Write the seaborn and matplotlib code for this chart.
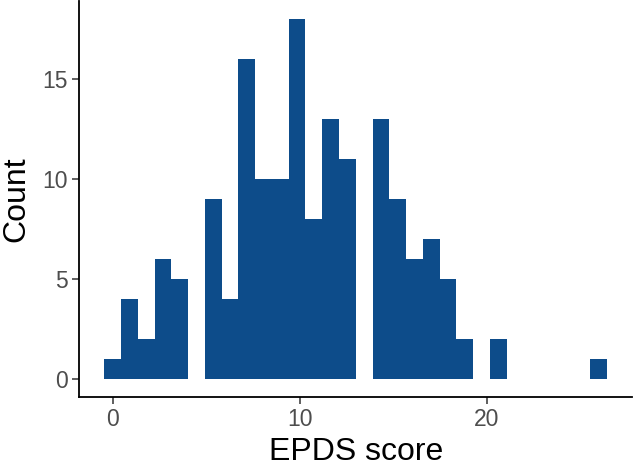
import numpy as np
import pandas as pd
import matplotlib.pyplot as plt
import seaborn as sns

# EPDS scores and how many respondents had each score
scores = [0, 1, 2, 3, 4, 5, 6, 7, 8, 9, 10, 11, 12, 13, 14, 15, 16, 17, 18, 19, 21, 26]
counts = [1, 4, 2, 6, 5, 9, 4, 16, 10, 10, 18, 8, 13, 11, 13, 9, 6, 7, 5, 2, 2, 1]

df = pd.DataFrame({"EPDS": np.repeat(scores, counts)})

# ggplot-style 30 bins, centred on the min and max, right-closed
n_bins = 30
lo, hi = df["EPDS"].min(), df["EPDS"].max()
width = (hi - lo) / (n_bins - 1)
edges = np.linspace(lo - width / 2, hi + width / 2, n_bins + 1) + 1e-9

sns.set_style("ticks")
plt.rcParams["font.family"] = ["Liberation Sans", "DejaVu Sans"]

fig = plt.figure(figsize=(6.33, 4.68), dpi=100)
ax = fig.add_axes([0.125, 0.152, 0.874, 0.846])

sns.histplot(data=df, x="EPDS", bins=edges, color="#0d4c8a", alpha=1,
             linewidth=0, ax=ax)

span = edges[-1] - edges[0]
ax.set_xlim(edges[0] - 0.05 * span, edges[-1] + 0.05 * span)
ax.set_ylim(-0.9, 18.9)
ax.set_xticks([0, 10, 20])
ax.set_yticks([0, 5, 10, 15])

sns.despine(ax=ax)
for side in ["left", "bottom"]:
    ax.spines[side].set_color("black")
    ax.spines[side].set_linewidth(1.3)
ax.tick_params(axis="both", colors="#333333", labelcolor="#4d4d4d",
               labelsize=16.5, length=5, width=1.1, pad=3)

ax.set_xlabel("EPDS score", fontsize=23, color="black", labelpad=4)
ax.set_ylabel("Count", fontsize=23, color="black", labelpad=8)

fig.savefig("out.png", dpi=100)
